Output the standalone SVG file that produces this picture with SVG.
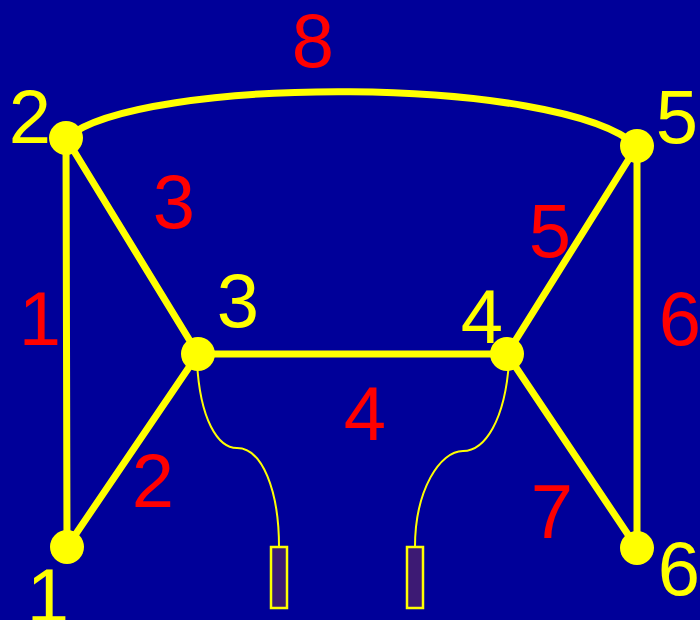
<svg xmlns="http://www.w3.org/2000/svg" width="700" height="620" viewBox="0 0 700 620">
<style>
.edge{stroke:#ffff00;stroke-width:7;fill:none;stroke-linecap:round}
.wire{stroke:#ffff00;stroke-width:2;fill:none}
.node{fill:#ffff00}
.nl{fill:#ffff00;font-family:"Liberation Sans",Arial,sans-serif;font-size:76px;text-anchor:middle}
.el{fill:#ff0000;font-family:"Liberation Sans",Arial,sans-serif;font-size:76px;text-anchor:middle}
.plug{fill:#3d1a74;stroke:#ffff00;stroke-width:2.5}
</style>
<rect width="700" height="620" fill="#000099"/>
<g id="connectors">
<path class="edge" d="M67,547 L66,138"/>
<path class="edge" d="M67,547 L198,354"/>
<path class="edge" d="M66,138 L198,354"/>
<path class="edge" d="M198,354 L507,354"/>
<path class="edge" d="M507,354 L637,146"/>
<path class="edge" d="M637,146 L637,548"/>
<path class="edge" d="M507,354 L637,548"/>
<path class="edge" d="M66,138 C140,75 560,75 637,146"/>
<path class="wire" d="M197,362 C200,420 218,448 237,448 C262,448 279,490 279,547"/>
<path class="wire" d="M509,362 C505,420 485,451 463,451 C440,451 415,490 415,547"/>
</g>
<g id="edge-labels">
<text class="el" x="40" y="345">1</text>
<text class="el" x="153" y="507">2</text>
<text class="el" x="174" y="228">3</text>
<text class="el" x="365" y="440">4</text>
<text class="el" x="550" y="257">5</text>
<text class="el" x="680" y="345">6</text>
<text class="el" x="552" y="538">7</text>
<text class="el" x="313" y="67">8</text>
</g>
<g id="node1"><circle class="node" cx="67" cy="547" r="17"/><text class="nl" x="48" y="622">1</text></g>
<g id="node2"><circle class="node" cx="66" cy="138" r="17"/><text class="nl" x="30" y="143">2</text></g>
<g id="node3"><circle class="node" cx="198" cy="354" r="17"/><text class="nl" x="238" y="327">3</text></g>
<g id="node4"><circle class="node" cx="507" cy="354" r="17"/><text class="nl" x="482" y="343">4</text></g>
<g id="node5"><circle class="node" cx="637" cy="146" r="17"/><text class="nl" x="677" y="143">5</text></g>
<g id="node6"><circle class="node" cx="637" cy="548" r="17"/><text class="nl" x="679" y="595">6</text></g>
<g id="plugs">
<rect class="plug" x="271" y="547" width="16" height="61"/>
<rect class="plug" x="407" y="547" width="16" height="61"/>
</g>
</svg>
